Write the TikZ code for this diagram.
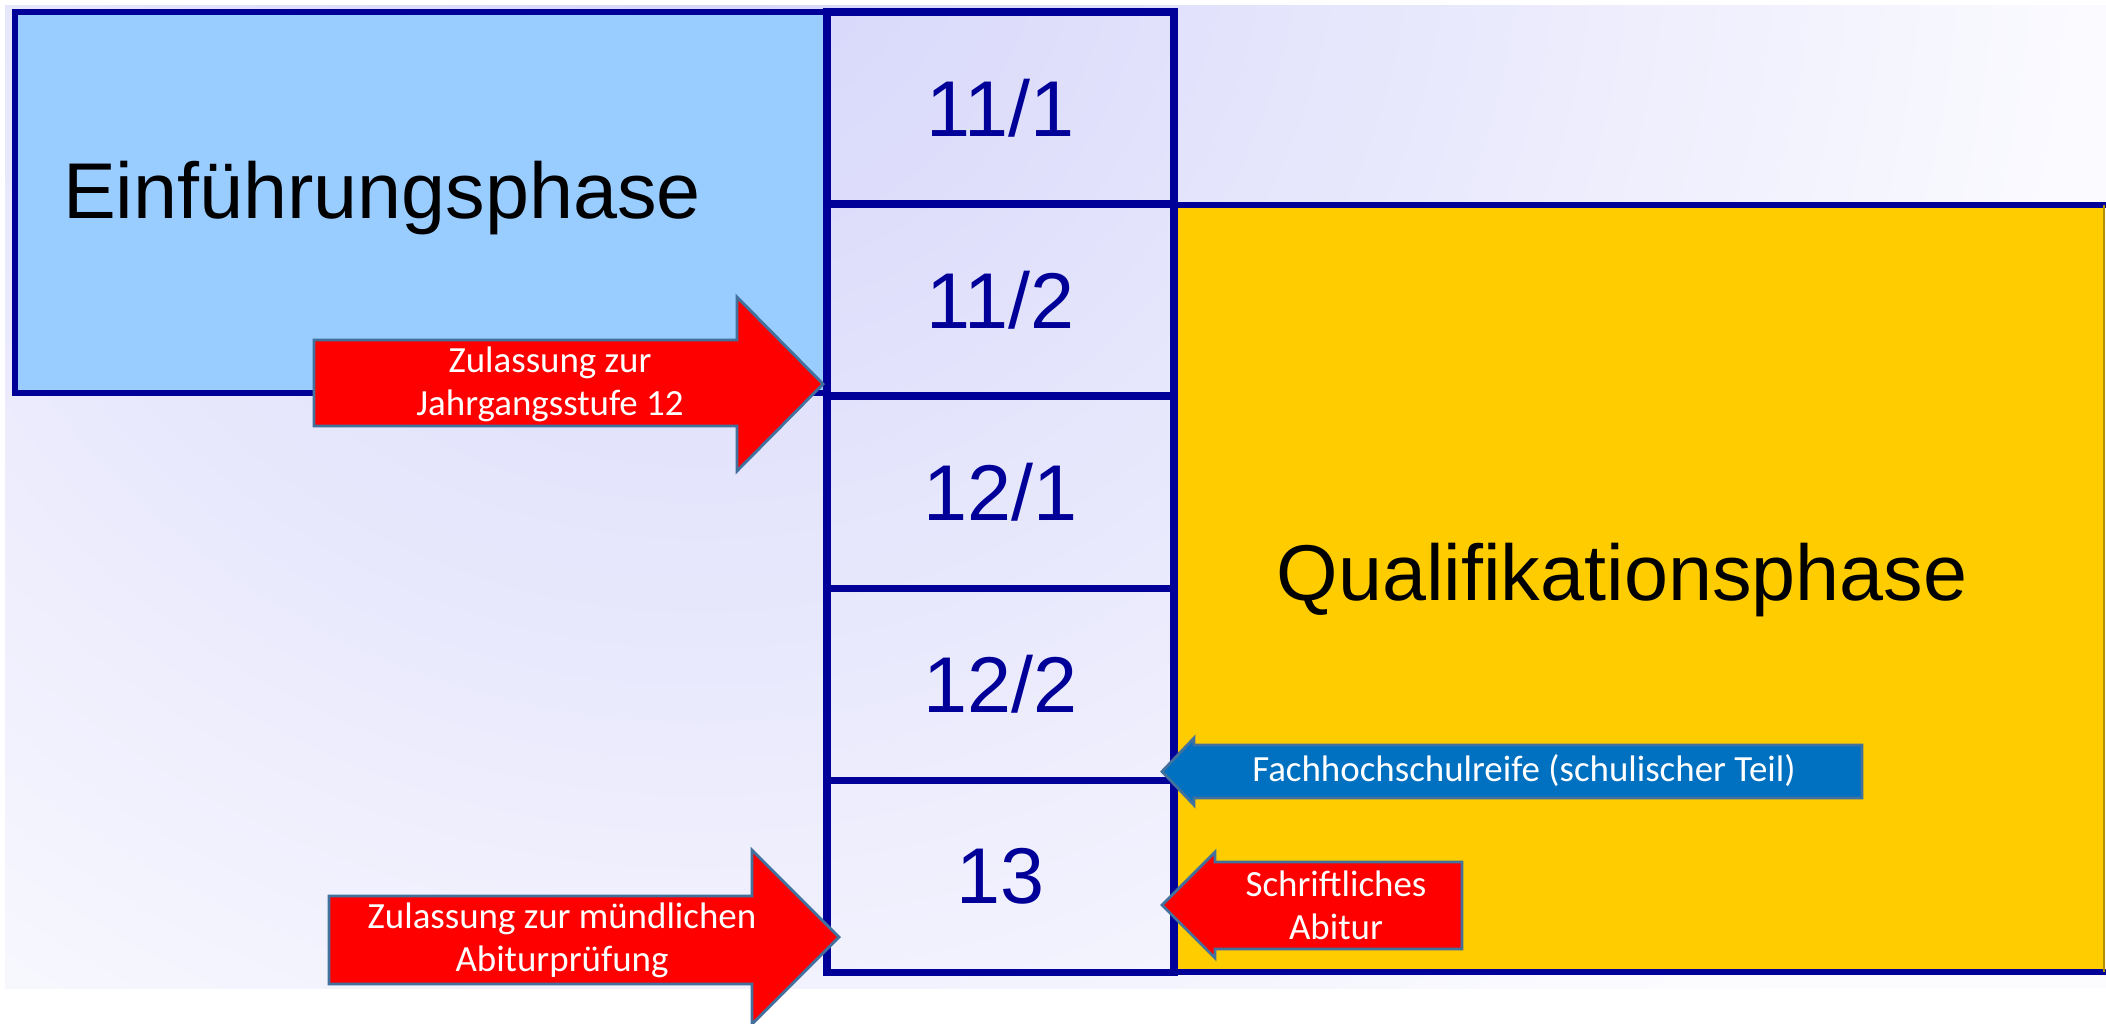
\documentclass[tikz,border=0pt]{standalone}
\usepackage{fontspec}
\setmainfont{Liberation Sans}
\newfontfamily\calibri{Carlito}
\usetikzlibrary{positioning}

\definecolor{navy}{HTML}{000099}
\definecolor{einblue}{HTML}{99CCFF}
\definecolor{qualgold}{HTML}{FFCC00}
\definecolor{arrowred}{HTML}{FF0000}
\definecolor{arrowblue}{HTML}{0070C0}
\definecolor{arrowedge}{HTML}{41719C}
\definecolor{bglav}{RGB}{212,212,250}
\definecolor{bgwhite}{RGB}{252,252,255}

\pgfdeclareradialshading{bgshade}{\pgfpoint{0bp}{0bp}}{color(0bp)=(bglav); color(414bp)=(bgwhite); color(430bp)=(bgwhite)}

\tikzset{
  phase/.style={draw=navy, line width=1.8pt},
  cell/.style={draw=navy, line width=2.1pt, minimum width=3.47cm, minimum height=1.92cm,
    outer sep=0pt, inner sep=0pt, text=navy, font=\fontsize{22.5}{27}\selectfont},
  phasetext/.style={anchor=base, font=\fontsize{22.5}{27}\selectfont},
  blockarrow/.style={draw=arrowedge, line width=0.8pt, line join=miter},
  arrowtext/.style={text=white, align=center, font=\calibri\fontsize{10.5}{12.2}\selectfont}
}

\begin{document}
\begin{tikzpicture}[x=0.01cm, y=-0.01cm]
  \useasboundingbox (0,0) rectangle (2106,1023);
  % background
  \begin{scope}
    \clip (5,5) rectangle (2106,988);
    \fill[bgwhite] (5,5) rectangle (2106,988);
    \node[inner sep=0pt] (bg) at (700,-100) {\pgfuseshading{bgshade}};
  \end{scope}

  % the two phases
  \draw[phase, fill=einblue] (15,12) rectangle (827,393);
  \fill[qualgold] (1174,205) rectangle (2104,972);
  \draw[navy, line width=1.6pt] (2106,205) -- (1174,205);
  \draw[navy, line width=1.6pt] (2106,972) -- (1174,972);
  \draw[qualgold!70!black, line width=0.5pt] (2104,205) -- (2104,972);
  \node[phasetext] (einf) at (382,218) {Einführungsphase};
  \node[phasetext] (qual) at (1622,600) {Qualifikationsphase};

  % half years
  \node[cell] (c111) at (1000.5,108) {11/1};
  \node[cell, below=0pt of c111] (c112) {11/2};
  \node[cell, below=0pt of c112] (c121) {12/1};
  \node[cell, below=0pt of c121] (c122) {12/2};
  \node[cell, below=0pt of c122] (c13) {13};

  % block arrows
  \draw[blockarrow, fill=arrowred] (314,340) -- (737,340) -- (737,297) -- (823,384)
    -- (737,471) -- (737,426) -- (314,426) -- cycle;
  \node[arrowtext] (zul12) at (550,384) {Zulassung zur\\Jahrgangsstufe 12};

  \draw[blockarrow, fill=arrowred] (329,896) -- (752,896) -- (752,850) -- (839,937)
    -- (752,1024) -- (752,984) -- (329,984) -- cycle;
  \node[arrowtext] (zulmdl) at (562,940) {Zulassung zur mündlichen\\Abiturprüfung};

  \draw[blockarrow, fill=arrowblue] (1862,745) -- (1194,745) -- (1194,738) -- (1162,771.5)
    -- (1194,805) -- (1194,798) -- (1862,798) -- cycle;
  \node[arrowtext] (fhr) at (1524,771) {Fachhochschulreife (schulischer Teil)};

  \draw[blockarrow, fill=arrowred] (1462,862) -- (1215,862) -- (1215,852) -- (1162,905)
    -- (1215,958) -- (1215,949) -- (1462,949) -- cycle;
  \node[arrowtext] (abi) at (1336,905) {Schriftliches\\Abitur};
\end{tikzpicture}
\end{document}
